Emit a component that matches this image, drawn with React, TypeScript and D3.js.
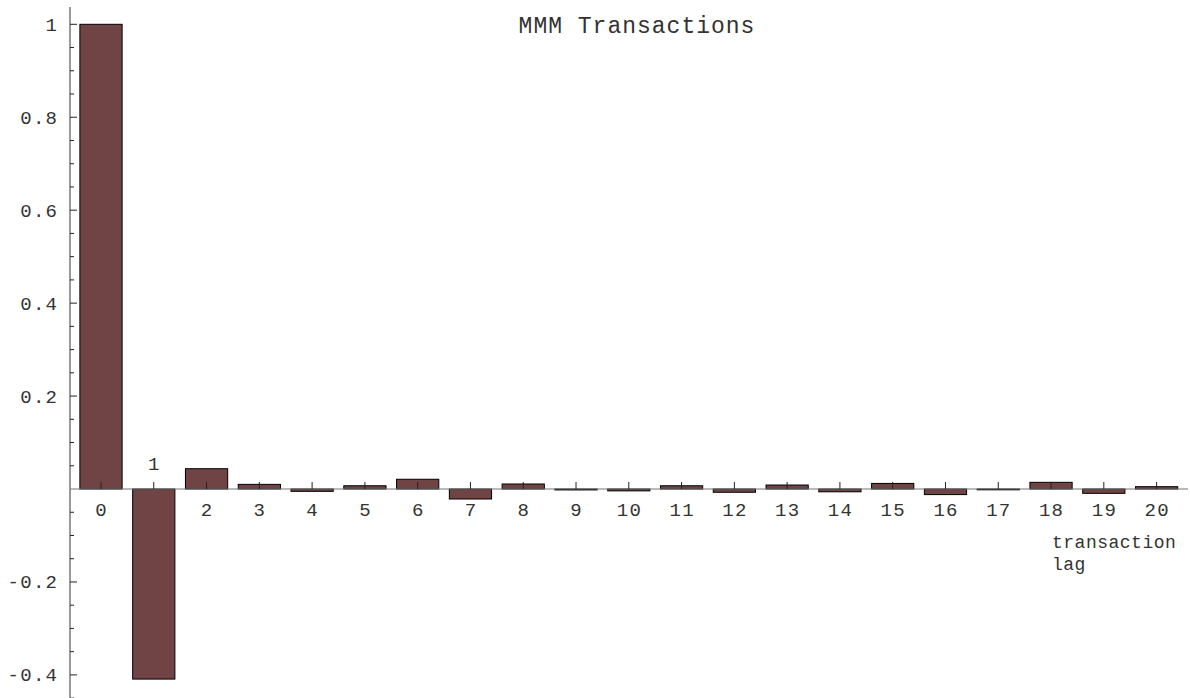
import React from "react";
import * as d3 from "d3";

const lags = [0, 1, 2, 3, 4, 5, 6, 7, 8, 9, 10, 11, 12, 13, 14, 15, 16, 17, 18, 19, 20];
const acf = [1.0, -0.409, 0.0437, 0.010, -0.005, 0.007, 0.021, -0.0215, 0.0108, -0.002, -0.004, 0.007, -0.007, 0.0086, -0.006, 0.012, -0.012, -0.0015, 0.0144, -0.0093, 0.005];
const yTickValues = [-0.4, -0.2, 0.2, 0.4, 0.6, 0.8, 1];
const yTickLabels = ["-0.4", "-0.2", "0.2", "0.4", "0.6", "0.8", "1"];
const title = "MMM Transactions";
const xAxisLabel = ["transaction", "lag"];

const W = 1190;
const H = 698;
const FONT = "'Liberation Mono', 'DejaVu Sans Mono', monospace";

export default function App() {
  const x = d3.scaleLinear().domain([0, 20]).range([101, 1156.6]);
  const y = d3.scaleLinear().domain([-0.4, 1]).range([674.9, 24.3]);
  const unit = x(1) - x(0);
  const barW = unit * 0.8;
  const axisX = 70;
  const y0 = y(0);
  const minorTicks = d3.range(-9, 21).map((k) => k * 0.05).filter((v) => Math.abs(v) > 1e-9);
  const isMajor = (v: number) => Math.abs(v / 0.2 - Math.round(v / 0.2)) < 1e-6;

  return (
    <svg width={W} height={H} style={{ position: "absolute", left: 0, top: 0, background: "#fff" }}>
      <rect x={0} y={0} width={W} height={H} fill="#fff" />
      {/* bars */}
      {acf.map((v, i) => {
        const top = Math.min(y(v), y0);
        const h = Math.max(Math.abs(y(v) - y0), 0.8);
        return (
          <rect
            key={i}
            x={x(lags[i]) - barW / 2}
            y={top}
            width={barW}
            height={h}
            fill="#704444"
            stroke="#000"
            strokeWidth={1}
          />
        );
      })}
      {/* x axis */}
      <line x1={axisX} x2={1188} y1={y0} y2={y0} stroke="#777" strokeWidth={1.2} />
      {lags.map((l) => (
        <line key={"xt" + l} x1={x(l)} x2={x(l)} y1={y0} y2={y0 - 7} stroke="#222" strokeWidth={1} />
      ))}
      {lags.map((l) => (
        <text
          key={"xl" + l}
          x={x(l) + 0.6}
          y={l === 1 ? 470 : 516}
          textAnchor="middle"
          fontFamily={FONT}
          fontSize={19}
          letterSpacing={1.3}
          fill="#333"
        >
          {String(l)}
        </text>
      ))}
      {/* y axis */}
      <line x1={axisX} x2={axisX} y1={7} y2={H} stroke="#777" strokeWidth={1.5} />
      {minorTicks.map((v) => (
        <line
          key={"yt" + v.toFixed(2)}
          x1={axisX}
          x2={axisX + (isMajor(v) ? 7 : 4)}
          y1={y(v)}
          y2={y(v)}
          stroke="#222"
          strokeWidth={1}
        />
      ))}
      {yTickValues.map((v, i) => (
        <text
          key={"yl" + v}
          x={58.3}
          y={y(v) + 6.5}
          textAnchor="end"
          fontFamily={FONT}
          fontSize={19}
          letterSpacing={1.3}
          fill="#333"
        >
          {yTickLabels[i]}
        </text>
      ))}
      {/* title */}
      <text x={637} y={33} textAnchor="middle" fontFamily={FONT} fontSize={23} letterSpacing={1} fill="#333">
        {title}
      </text>
      {/* axis label */}
      {xAxisLabel.map((s, i) => (
        <text key={s} x={1052} y={548 + i * 22} fontFamily={FONT} fontSize={18} letterSpacing={0.5} fill="#333">
          {s}
        </text>
      ))}
    </svg>
  );
}
